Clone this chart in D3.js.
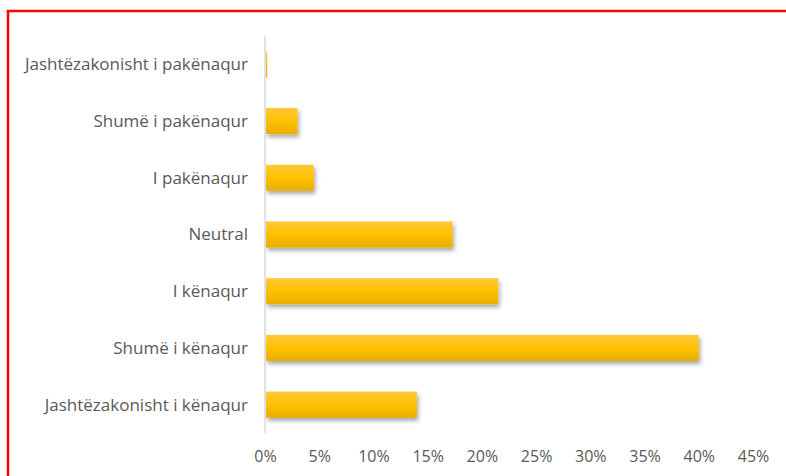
<!DOCTYPE html>
<html>
<head>
<meta charset="utf-8">
<script src="https://cdn.jsdelivr.net/npm/d3@7"></script>
<style>
  body { margin: 0; background: #fff; }
  svg { display: block; }
</style>
</head>
<body>
<svg width="786" height="476"></svg>
<script>
// Categories, top to bottom
const categories = [
    "Jashtëzakonisht i pakënaqur",
    "Shumë i pakënaqur",
    "I pakënaqur",
    "Neutral",
    "I kënaqur",
    "Shumë i kënaqur",
    "Jashtëzakonisht i kënaqur"
];
// Share of answers (%)
const values = [0.2, 3.0, 4.5, 17.3, 21.5, 40.0, 14.0];
const tickValues = [0, 5, 10, 15, 20, 25, 30, 35, 40, 45];

const width = 786;
const height = 476;
const margin = { top: 36, right: 33, bottom: 43, left: 265 };
const font = "'Open Sans', sans-serif";

const svg = d3.select("svg");

// Red frame (right and bottom run off the picture)
svg.append("rect")
    .attr("x", 8)
    .attr("y", 11)
    .attr("width", 800)
    .attr("height", 500)
    .attr("fill", "none")
    .attr("stroke", "#ff0000")
    .attr("stroke-width", 2.5);

// Bar gradient and shadow
const defs = svg.append("defs");
const grad = defs.append("linearGradient")
    .attr("id", "barGrad")
    .attr("x1", 0).attr("y1", 0).attr("x2", 0).attr("y2", 1);
grad.append("stop").attr("offset", "0%").attr("stop-color", "#ffc93a");
grad.append("stop").attr("offset", "50%").attr("stop-color", "#ffc000");
grad.append("stop").attr("offset", "100%").attr("stop-color", "#e8ae00");

const shadow = defs.append("filter")
    .attr("id", "shadow")
    .attr("x", "-10%").attr("y", "-30%")
    .attr("width", "130%").attr("height", "180%");
shadow.append("feDropShadow")
    .attr("dx", 1.5)
    .attr("dy", 3)
    .attr("stdDeviation", 2)
    .attr("flood-color", "#000")
    .attr("flood-opacity", 0.35);

// Scales
const xScale = d3.scaleLinear()
    .domain([0, 45])
    .range([margin.left, width - margin.right]);

const yScale = d3.scaleBand()
    .domain(categories)
    .range([margin.top, height - margin.bottom])
    .paddingInner(0.54)
    .paddingOuter(0.27);

// Bars
svg.append("g")
    .selectAll("rect")
    .data(values)
    .enter()
    .append("rect")
    .attr("x", xScale(0) + 1)
    .attr("y", (d, i) => yScale(categories[i]))
    .attr("width", d => Math.max(1, xScale(d) - xScale(0) - 1))
    .attr("height", yScale.bandwidth())
    .attr("fill", "url(#barGrad)")
    .attr("filter", "url(#shadow)");

// Vertical category axis line
svg.append("line")
    .attr("x1", xScale(0))
    .attr("x2", xScale(0))
    .attr("y1", margin.top)
    .attr("y2", height - margin.bottom)
    .attr("stroke", "#d9d9d9")
    .attr("stroke-width", 1.5);

// Category labels
svg.append("g")
    .selectAll("text")
    .data(categories)
    .enter()
    .append("text")
    .attr("x", margin.left - 17)
    .attr("y", d => yScale(d) + yScale.bandwidth() / 2)
    .attr("dy", "0.35em")
    .attr("text-anchor", "end")
    .attr("font-family", font)
    .attr("font-size", 17)
    .attr("fill", "#595959")
    .text(d => d);

// Percentage axis
const xAxis = svg.append("g")
    .attr("transform", `translate(0, ${height - margin.bottom})`)
    .call(d3.axisBottom(xScale)
        .tickValues(tickValues)
        .tickFormat(d => d + "%")
        .tickSize(0)
        .tickPadding(18));
xAxis.select(".domain").remove();
xAxis.selectAll("text")
    .attr("font-family", font)
    .attr("font-size", 16)
    .attr("fill", "#595959");
</script>
</body>
</html>
